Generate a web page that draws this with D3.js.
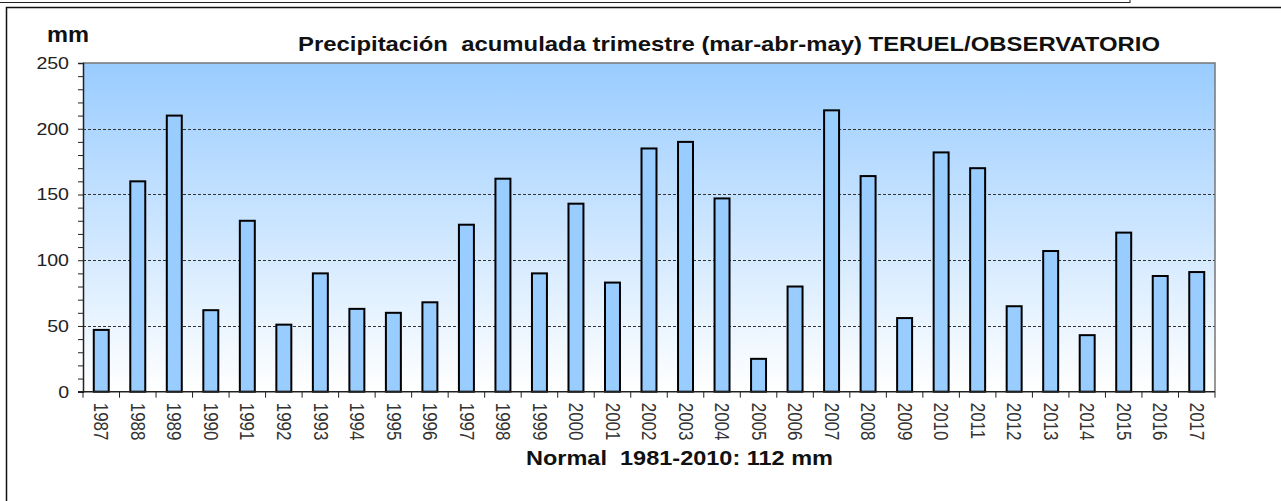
<!DOCTYPE html>
<html>
<head>
<meta charset="utf-8">
<script src="https://cdn.jsdelivr.net/npm/d3@7"></script>
<style>
  html, body { margin: 0; padding: 0; background: #fff; }
  svg { display: block; font-family: Arial, "Liberation Sans", sans-serif; }
</style>
</head>
<body>
<div id="chart"></div>
<script>
// Data
const years = ["1987", "1988", "1989", "1990", "1991", "1992", "1993", "1994", "1995", "1996",
  "1997", "1998", "1999", "2000", "2001", "2002", "2003", "2004", "2005", "2006",
  "2007", "2008", "2009", "2010", "2011", "2012", "2013", "2014", "2015", "2016", "2017"];
const precip = [47, 160, 210, 62, 130, 51, 90, 63, 60, 68,
  127, 162, 90, 143, 83, 185, 190, 147, 25, 80,
  214, 164, 56, 182, 170, 65, 107, 43, 121, 88, 91];
const yTicks = [0, 50, 100, 150, 200, 250];
const titleText = "Precipitación  acumulada trimestre (mar-abr-may) TERUEL/OBSERVATORIO";
const normalText = "Normal  1981-2010: 112 mm";

const W = 1281, H = 501;
const plot = { left: 83, right: 1215, top: 63, bottom: 391.7 };
// the source picture is slightly stretched sideways, so texts are widened
const stretch = 1.15;

const svg = d3.select("#chart").append("svg")
  .attr("width", W)
  .attr("height", H);

// page frame
svg.append("rect")
  .attr("x", -2).attr("y", -2).attr("width", 1132).attr("height", 4.5)
  .attr("fill", "none").attr("stroke", "#222").attr("stroke-width", 1);
svg.append("path")
  .attr("d", `M6.5,${H} V7.5 H${W}`)
  .attr("fill", "none").attr("stroke", "#111").attr("stroke-width", 1.5);

// background gradient of the plot area
const grad = svg.append("defs").append("linearGradient")
  .attr("id", "bg").attr("x1", 0).attr("y1", 0).attr("x2", 0).attr("y2", 1);
grad.append("stop").attr("offset", "0%").attr("stop-color", "#99ccff");
grad.append("stop").attr("offset", "100%").attr("stop-color", "#ffffff");

// Scales
const x = d3.scaleBand().domain(years)
  .range([plot.left, plot.right])
  .paddingInner(0.59).paddingOuter(0.295);
const xEdge = d3.scaleBand().domain(years).range([plot.left, plot.right]).padding(0);
const y = d3.scaleLinear().domain([0, 250]).range([plot.bottom, plot.top]);

svg.append("rect")
  .attr("x", plot.left).attr("y", plot.top)
  .attr("width", plot.right - plot.left).attr("height", plot.bottom - plot.top)
  .attr("fill", "url(#bg)");

// dashed gridlines
svg.append("g")
  .selectAll("line")
  .data(yTicks.filter(d => d > 0 && d < 250))
  .join("line")
  .attr("x1", plot.left).attr("x2", plot.right)
  .attr("y1", d => Math.round(y(d)) + 0.5).attr("y2", d => Math.round(y(d)) + 0.5)
  .attr("stroke", "#333").attr("stroke-width", 1).attr("stroke-dasharray", "3,2");

// top and right border
svg.append("path")
  .attr("d", `M${plot.left},${plot.top} H${plot.right} V${plot.bottom}`)
  .attr("fill", "none").attr("stroke", "#777").attr("stroke-width", 1.5);

// Bars
svg.append("g")
  .selectAll("rect")
  .data(precip)
  .join("rect")
  .attr("x", (d, i) => x(years[i]))
  .attr("y", d => y(d))
  .attr("width", x.bandwidth())
  .attr("height", d => y(0) - y(d))
  .attr("fill", "#99ccff")
  .attr("stroke", "#000")
  .attr("stroke-width", 2);

// Y axis with minor ticks every 10 mm
const yAxis = d3.axisLeft(y)
  .tickValues(d3.range(0, 251, 10))
  .tickSize(5)
  .tickPadding(9)
  .tickFormat(d => yTicks.includes(d) ? d : "");
const gy = svg.append("g")
  .attr("transform", `translate(${plot.left},0)`)
  .call(yAxis);
gy.select(".domain").attr("stroke", "#222").attr("stroke-width", 1.5);
gy.selectAll(".tick line").attr("stroke", "#222");
gy.selectAll(".tick text")
  .attr("font-size", 17).attr("fill", "#222")
  .attr("font-family", "Arial, 'Liberation Sans', sans-serif")
  .each(function (d) {
    if (yTicks.includes(d)) {
      const t = d3.select(this);
      t.attr("textLength", this.getComputedTextLength() * stretch)
        .attr("lengthAdjust", "spacingAndGlyphs");
    }
  });

// X axis: ticks on category boundaries, labels rotated
const gx = svg.append("g");
gx.append("line")
  .attr("x1", plot.left - 5).attr("x2", plot.right)
  .attr("y1", plot.bottom).attr("y2", plot.bottom)
  .attr("stroke", "#222").attr("stroke-width", 1.5);
gx.selectAll(".xt")
  .data(years.concat(["end"]))
  .join("line")
  .attr("class", "xt")
  .attr("x1", (d, i) => i < years.length ? xEdge(d) : plot.right)
  .attr("x2", (d, i) => i < years.length ? xEdge(d) : plot.right)
  .attr("y1", plot.bottom).attr("y2", plot.bottom + 6)
  .attr("stroke", "#222").attr("stroke-width", 1);
gx.selectAll(".xl")
  .data(years)
  .join("text")
  .attr("class", "xl")
  .attr("transform", d => `translate(${x(d) + x.bandwidth() / 2},${plot.bottom + 11}) rotate(90) scale(1,${stretch})`)
  .attr("dy", "0.35em")
  .attr("font-size", 17)
  .attr("fill", "#333")
  .text(d => d);

// Texts
svg.append("text")
  .attr("x", 47).attr("y", 42)
  .attr("font-size", 22).attr("font-weight", "bold").attr("fill", "#111")
  .attr("textLength", 42).attr("lengthAdjust", "spacingAndGlyphs")
  .text("mm");
svg.append("text")
  .attr("x", 298).attr("y", 51)
  .attr("font-size", 21).attr("font-weight", "bold").attr("fill", "#111")
  .attr("textLength", 862).attr("lengthAdjust", "spacingAndGlyphs")
  .style("white-space", "pre")
  .text(titleText);
svg.append("text")
  .attr("x", 526).attr("y", 465)
  .attr("font-size", 21).attr("font-weight", "bold").attr("fill", "#111")
  .attr("textLength", 307).attr("lengthAdjust", "spacingAndGlyphs")
  .style("white-space", "pre")
  .text(normalText);
</script>
</body>
</html>
